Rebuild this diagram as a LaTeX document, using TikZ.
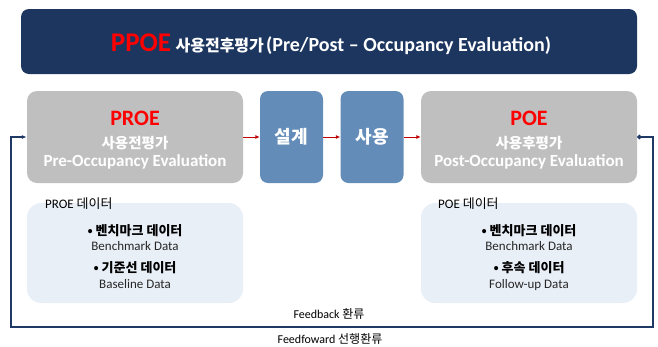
\documentclass[tikz,border=0pt]{standalone}
\usepackage{fontspec}
\setmainfont{Carlito}
\newfontfamily\kr{Noto Sans CJK KR}
\usetikzlibrary{arrows.meta}

\definecolor{navy}{RGB}{28,54,96}
\definecolor{loopblue}{RGB}{31,56,100}
\definecolor{boxgray}{RGB}{191,191,191}
\definecolor{stepblue}{RGB}{100,140,184}
\definecolor{datafill}{RGB}{233,239,247}
\definecolor{hired}{RGB}{255,0,0}
\definecolor{arrred}{RGB}{192,0,0}
\definecolor{datatext}{RGB}{38,38,38}

\newcommand{\fs}[1]{\fontsize{#1}{#1}\selectfont}

\tikzset{
  banner/.style={fill=navy, rounded corners=8pt, inner sep=0pt,
    minimum width=616pt, minimum height=65pt},
  evalbox/.style={fill=boxgray, rounded corners=10pt, inner sep=0pt,
    minimum width=216pt, minimum height=92pt},
  stagebox/.style={fill=stepblue, rounded corners=8pt, inner sep=0pt,
    minimum width=63pt, minimum height=92pt, text=white,
    font=\kr\bfseries\fs{18}},
  databox/.style={fill=datafill, rounded corners=14pt, inner sep=0pt,
    minimum width=216pt, minimum height=100pt},
  flow/.style={arrred, line width=1pt, -{Latex[length=4.5pt,width=4pt]}},
  loopline/.style={loopblue, line width=1.3pt,
    {Circle[length=4.5pt]}-{Latex[length=5pt,width=4pt]}},
  txt/.style={anchor=base, inner sep=0pt},
  bigred/.style={txt, text=hired, font=\bfseries\fs{22}},
  krwhite/.style={txt, text=white, font=\kr\bfseries\fs{14.5}},
  enwhite/.style={txt, text=white, font=\bfseries\fs{17}},
  datalabel/.style={anchor=base west, inner sep=0pt, text=black, font=\fs{13}},
  bullet/.style={txt, text=black, font=\kr\bfseries\fs{13}},
  endata/.style={txt, text=datatext, font=\fs{13}},
  looptext/.style={txt, text=black, font=\fs{12}}
}

\begin{document}
\begin{tikzpicture}[x=1pt, y=-1pt]
\useasboundingbox (0,0) rectangle (658,346);

% title banner
\node[banner] (banner) at (329,41.5) {};
\node[txt, text=white] (title) at (331,51)
  {{\color{hired}\bfseries\fs{27}PPOE}\ \ {\kr\bfseries\fs{16}사용전후평가}\ {\bfseries\fs{20}(Pre/Post – Occupancy Evaluation)}};

% process row
\node[evalbox] (proe) at (135,137) {};
\node[stagebox] (design) at (291.5,137) {설계};
\node[stagebox] (use) at (372,137) {사용};
\node[evalbox] (poe) at (529,137) {};

\node[bigred] (proeA) at (135,125) {PROE};
\node[krwhite] (proeB) at (135,148.5) {사용전평가};
\node[enwhite] (proeC) at (135,166) {Pre-Occupancy Evaluation};

\node[bigred] (poeA) at (529,125) {POE};
\node[krwhite] (poeB) at (529,148.5) {사용후평가};
\node[enwhite] (poeC) at (529,166) {Post-Occupancy Evaluation};

\draw[flow] (proe.east) -- (design.west);
\draw[flow] (design.east) -- (use.west);
\draw[flow] (use.east) -- (poe.west);

% data panels
\node[databox] (proedata) at (135,253) {};
\node[databox] (poedata) at (529,253) {};

\node[datalabel] (proeL) at (45,208) {PROE {\kr 데이터}};
\node[bullet] (proe1) at (135,235.5) {• 벤치마크 데이터};
\node[endata] (proe2) at (135,250.5) {Benchmark Data};
\node[bullet] (proe3) at (135,272.5) {• 기준선 데이터};
\node[endata] (proe4) at (135,288.5) {Baseline Data};

\node[datalabel] (poeL) at (438,208) {POE {\kr 데이터}};
\node[bullet] (poe1) at (529,235.5) {• 벤치마크 데이터};
\node[endata] (poe2) at (529,250.5) {Benchmark Data};
\node[bullet] (poe3) at (529,272.5) {• 후속 데이터};
\node[endata] (poe4) at (529,288.5) {Follow-up Data};

% feedback loop
\coordinate (loopRT) at (653,137);
\coordinate (loopRB) at (653,327);
\coordinate (loopLB) at (11,327);
\coordinate (loopLT) at (11,137);
\draw[loopline] (poe.east) -- (loopRT) -- (loopRB) -- (loopLB) -- (loopLT) -- (proe.west);

\node[looptext] (fb) at (329,318.5) {Feedback {\kr 환류}};
\node[looptext] (ff) at (330,343.5) {Feedfoward {\kr 선행환류}};
\end{tikzpicture}
\end{document}
